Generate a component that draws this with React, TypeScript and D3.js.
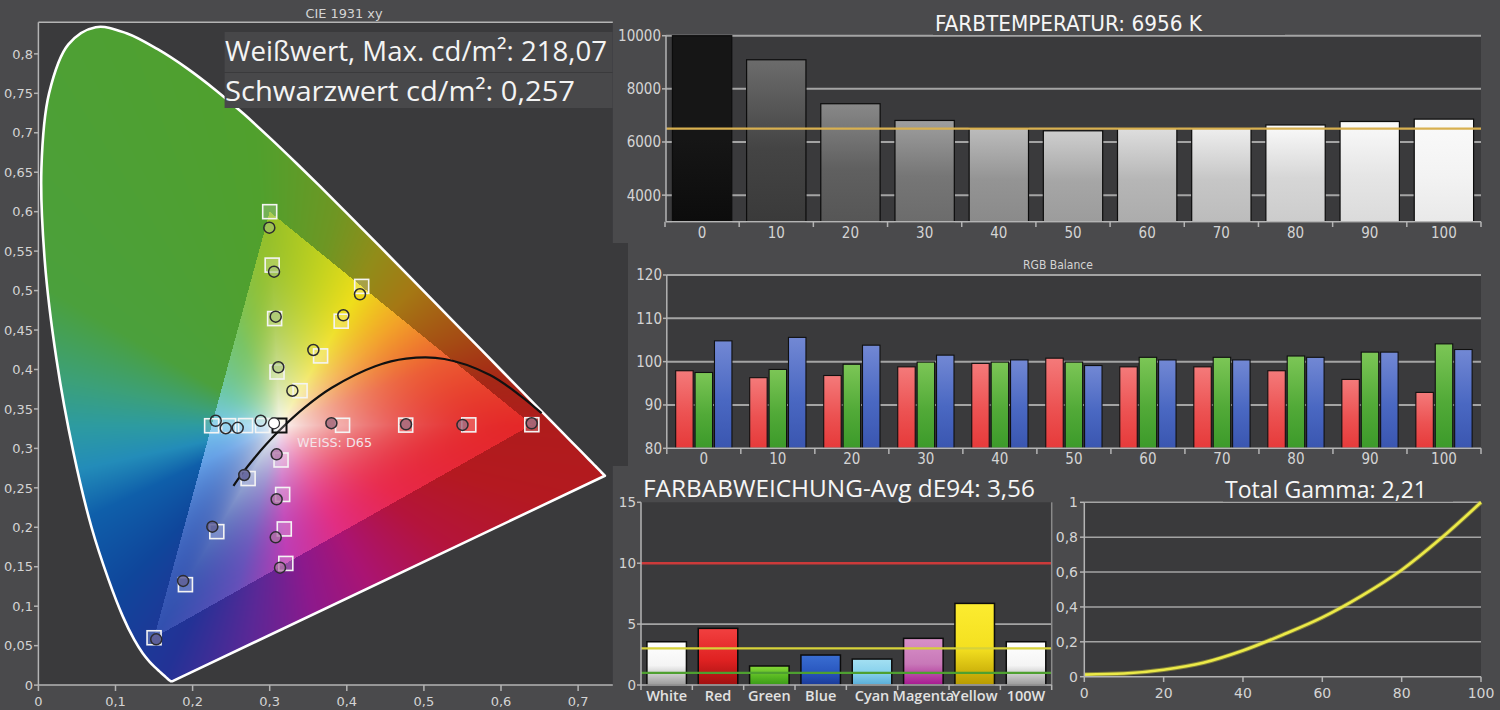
import React, { useMemo } from "react";
import * as d3 from "d3";

// ---------- CIE 1931 data ----------
// spectral locus, 380..700 nm
const locus: [number, number][] = [
  [0.1741, 0.005], [0.174, 0.005], [0.1738, 0.0049], [0.1736, 0.0049], [0.1733, 0.0048],
  [0.173, 0.0048], [0.1726, 0.0048], [0.1721, 0.0048], [0.1714, 0.0051], [0.1703, 0.0058],
  [0.1689, 0.0069], [0.1669, 0.0086], [0.1644, 0.0109], [0.1611, 0.0138], [0.1566, 0.0177],
  [0.151, 0.0227], [0.144, 0.0297], [0.1355, 0.0399], [0.1241, 0.0578], [0.1096, 0.0868],
  [0.0913, 0.1327], [0.0687, 0.2007], [0.0454, 0.295], [0.0235, 0.4127], [0.0082, 0.5384],
  [0.0039, 0.6548], [0.0139, 0.7502], [0.0389, 0.812], [0.0743, 0.8338], [0.1142, 0.8262],
  [0.1547, 0.8059], [0.1929, 0.7816], [0.2296, 0.7543], [0.2658, 0.7243], [0.3016, 0.6923],
  [0.3373, 0.6589], [0.3731, 0.6245], [0.4087, 0.5896], [0.4441, 0.5547], [0.4788, 0.5202],
  [0.5125, 0.4866], [0.5448, 0.4544], [0.5752, 0.4242], [0.6029, 0.3965], [0.627, 0.3725],
  [0.6482, 0.3514], [0.6658, 0.334], [0.6801, 0.3197], [0.6915, 0.3083], [0.7006, 0.2993],
  [0.7079, 0.292], [0.714, 0.2859], [0.719, 0.2809], [0.723, 0.277], [0.726, 0.274],
  [0.7283, 0.2717], [0.73, 0.27], [0.732, 0.268], [0.7334, 0.2666], [0.7347, 0.2653],
];
// Planckian locus 25000K .. 1000K
const planck: [number, number][] = [
  [0.253, 0.2526], [0.2637, 0.2674], [0.2807, 0.2884], [0.2952, 0.3048], [0.3135, 0.3236],
  [0.3451, 0.3516], [0.3805, 0.3768], [0.4369, 0.4041], [0.477, 0.4137], [0.5266, 0.4133],
  [0.5857, 0.3931], [0.6249, 0.3669], [0.6526, 0.3446],
];
const gamutTri: [number, number][] = [[0.64, 0.33], [0.3, 0.6], [0.15, 0.06]];
const whiteTarget: [number, number] = [0.3127, 0.329];
const whiteMeasured: [number, number] = [0.3056, 0.3318];

const targetRed: [number, number][] = [[0.3945, 0.3293], [0.4764, 0.3295], [0.5582, 0.3298], [0.64, 0.33]];
const targetGreen: [number, number][] = [[0.3095, 0.3968], [0.3064, 0.4645], [0.3032, 0.5323], [0.3, 0.6]];
const targetBlue: [number, number][] = [[0.272, 0.2618], [0.2314, 0.1945], [0.1907, 0.1273], [0.15, 0.06]];
const targetCyan: [number, number][] = [[0.2907, 0.329], [0.2687, 0.3289], [0.2467, 0.3288], [0.2247, 0.3287]];
const targetMagenta: [number, number][] = [[0.3147, 0.2853], [0.3168, 0.2416], [0.3189, 0.1979], [0.3209, 0.1542]];
const targetYellow: [number, number][] = [[0.3394, 0.3731], [0.366, 0.4172], [0.3927, 0.4612], [0.4193, 0.5053]];

const measRed: [number, number][] = [[0.38, 0.332], [0.4768, 0.3305], [0.55, 0.3297], [0.6398, 0.3318]];
const measGreen: [number, number][] = [[0.3112, 0.4028], [0.3078, 0.4669], [0.3056, 0.524], [0.2995, 0.5797]];
const measBlue: [number, number][] = [[0.267, 0.2663], [0.2256, 0.2008], [0.1877, 0.132], [0.1528, 0.058]];
const measCyan: [number, number][] = [[0.2883, 0.335], [0.2585, 0.326], [0.243, 0.3255], [0.23, 0.335]];
const measMagenta: [number, number][] = [[0.309, 0.2925], [0.309, 0.2355], [0.3078, 0.1873], [0.3134, 0.1488]];
const measYellow: [number, number][] = [[0.3294, 0.3731], [0.3566, 0.4247], [0.3955, 0.4687], [0.4171, 0.4953]];

const cieXTicks = [0, 0.1, 0.2, 0.3, 0.4, 0.5, 0.6, 0.7];
const cieYTicks = [0, 0.05, 0.1, 0.15, 0.2, 0.25, 0.3, 0.35, 0.4, 0.45, 0.5, 0.55, 0.6, 0.65, 0.7, 0.75, 0.8];

// ---------- Farbtemperatur ----------
const levels = ["0", "10", "20", "30", "40", "50", "60", "70", "80", "90", "100"];
const cct = [10000, 9094, 7440, 6810, 6520, 6420, 6510, 6510, 6640, 6770, 6860];
const cctTarget = 6500;
const cctTicks = [4000, 6000, 8000, 10000];

// ---------- RGB Balance ----------
const rgbRed = [97.9, 96.3, 96.8, 98.8, 99.6, 100.8, 98.8, 98.8, 97.9, 95.9, 92.9];
const rgbGreen = [97.5, 98.2, 99.4, 99.9, 99.9, 99.9, 101.0, 101.0, 101.3, 102.2, 104.1];
const rgbBlue = [104.8, 105.6, 103.8, 101.5, 100.4, 99.1, 100.4, 100.4, 101.0, 102.2, 102.8];
const rgbTicks = [80, 90, 100, 110, 120];

// ---------- Farbabweichung ----------
const deCats = ["White", "Red", "Green", "Blue", "Cyan", "Magenta", "Yellow", "100W"];
const deValues = [3.55, 4.65, 1.56, 2.46, 2.13, 3.83, 6.7, 3.55];
const deTicks = [0, 5, 10, 15];

// ---------- Gamma ----------
const gammaX = [0, 10, 20, 30, 40, 50, 60, 70, 80, 90, 100];
const gammaY = [0.012, 0.018, 0.04, 0.08, 0.15, 0.24, 0.34, 0.465, 0.612, 0.795, 1.0];
const gammaXTicks = [0, 20, 40, 60, 80, 100];
const gammaYTicks = [0, 0.2, 0.4, 0.6, 0.8, 1];

const BG = "#4a4a4c";
const PLOT = "#3a3a3c";
const GRID = "#a4a4a4";
const LBL = "#d4d4d4";
const NUM = "'DejaVu Sans', sans-serif";
const NARROW = "'Liberation Sans Narrow', 'DejaVu Sans Condensed', 'Liberation Sans', sans-serif";
const TITLE = "'Open Sans', 'Noto Sans', sans-serif";

const comma = (v: number) => d3.format("~g")(+v.toFixed(3)).replace(".", ",");

// ---------- colour field of the diagram (hue by angle around the white point) ----------
// [angle in degrees, r, g, b]
const fieldOutside: number[][] = [
  [0, 175, 28, 28], [12, 165, 40, 22], [25, 165, 75, 20], [45, 165, 120, 20], [60, 145, 140, 25],
  [75, 110, 150, 35], [95, 80, 160, 45], [150, 75, 160, 60], [168, 60, 160, 120], [180, 45, 155, 160],
  [192, 35, 140, 185], [205, 15, 95, 170], [225, 15, 70, 155], [245, 35, 50, 150], [262, 90, 40, 150],
  [280, 140, 25, 140], [300, 170, 20, 115], [325, 180, 20, 60], [345, 180, 25, 32], [360, 175, 28, 28],
];
const fieldInside: number[][] = [
  [0, 228, 40, 40], [20, 235, 90, 50], [40, 242, 160, 40], [59, 238, 222, 25], [75, 195, 210, 30],
  [93, 150, 192, 40], [115, 120, 195, 100], [150, 110, 200, 170], [180, 120, 200, 235], [205, 100, 160, 230],
  [239, 50, 80, 175], [255, 100, 80, 185], [273, 190, 60, 180], [300, 225, 45, 130], [330, 232, 40, 75],
  [360, 228, 40, 40],
];

function lerpAnchors(a: number, table: number[][]) {
  let k = 1;
  while (k < table.length - 1 && table[k][0] < a) k++;
  const p = table[k - 1], q = table[k];
  const t = (a - p[0]) / (q[0] - p[0] || 1);
  return [p[1] + (q[1] - p[1]) * t, p[2] + (q[2] - p[2]) * t, p[3] + (q[3] - p[3]) * t];
}

function cross(ax: number, ay: number, bx: number, by: number) {
  return ax * by - ay * bx;
}

// fraction of the way from the white point to the gamut edge (>1 = outside)
function gamutDepth(x: number, y: number) {
  const [wx, wy] = whiteTarget;
  const vx = x - wx, vy = y - wy;
  let best = Infinity;
  for (let k = 0; k < 3; k++) {
    const a = gamutTri[k], b = gamutTri[(k + 1) % 3];
    const ex = b[0] - a[0], ey = b[1] - a[1];
    const den = cross(vx, vy, ex, ey);
    if (Math.abs(den) < 1e-12) continue;
    const t = cross(a[0] - wx, a[1] - wy, ex, ey) / den;
    const u = cross(a[0] - wx, a[1] - wy, vx, vy) / den;
    if (t > 0 && u >= -1e-9 && u <= 1 + 1e-9) best = Math.min(best, t);
  }
  return best === Infinity ? 0 : 1 / best;
}

function fieldColor(x: number, y: number) {
  const dx = x - whiteTarget[0], dy = y - whiteTarget[1];
  let ang = (Math.atan2(dy, dx) * 180) / Math.PI;
  if (ang < 0) ang += 360;
  const d = gamutDepth(x, y);
  if (d > 1) return lerpAnchors(ang, fieldOutside);
  const c = lerpAnchors(ang, fieldInside);
  const w = Math.pow(1 - d, 2.2);
  return [c[0] + (250 - c[0]) * w, c[1] + (249 - c[1]) * w, c[2] + (245 - c[2]) * w];
}

function buildField(sx: d3.ScaleLinear<number, number>, sy: d3.ScaleLinear<number, number>, x0: number, y0: number, w: number, h: number) {
  const canvas = document.createElement("canvas");
  canvas.width = w;
  canvas.height = h;
  const ctx = canvas.getContext("2d");
  if (!ctx) return "";
  const img = ctx.createImageData(w, h);
  for (let j = 0; j < h; j++) {
    const y = sy.invert(y0 + j + 0.5);
    for (let i = 0; i < w; i++) {
      const x = sx.invert(x0 + i + 0.5);
      const [r, g, b] = fieldColor(x, y);
      const k = (j * w + i) * 4;
      img.data[k] = r;
      img.data[k + 1] = g;
      img.data[k + 2] = b;
      img.data[k + 3] = 255;
    }
  }
  ctx.putImageData(img, 0, 0);
  return canvas.toDataURL();
}

function grad(id: string, top: string, bottom: string, mid?: string) {
  return (
    <linearGradient id={id} key={id} x1="0" y1="0" x2="0" y2="1">
      <stop offset="0%" stopColor={top} />
      {mid && <stop offset="55%" stopColor={mid} />}
      <stop offset="100%" stopColor={bottom} />
    </linearGradient>
  );
}

export default function App() {
  // CIE panel scales
  const cx = d3.scaleLinear([0, 0.745], [38.4, 612.8]);
  const cy = d3.scaleLinear([0, 0.84], [685.1, 22.3]);
  const field = useMemo(() => buildField(cx, cy, 38, 22, 576, 664), []);
  const locusPath = d3.line<[number, number]>().x((d) => cx(d[0])).y((d) => cy(d[1])).curve(d3.curveCatmullRom)(locus) + "Z";
  const planckPath = d3.line<[number, number]>().x((d) => cx(d[0])).y((d) => cy(d[1])).curve(d3.curveCatmullRom)(planck);

  const targets = [targetRed, targetGreen, targetBlue, targetCyan, targetMagenta, targetYellow];
  const measured = [measRed, measGreen, measBlue, measCyan, measMagenta, measYellow];
  const measFill = ["rgba(160,105,125,0.8)", "rgba(165,195,120,0.55)", "rgba(95,95,150,0.85)", "none", "rgba(175,115,165,0.75)", "none"];

  // Farbtemperatur
  const tX = d3.scaleBand(levels, [665, 1481]).paddingInner(0.2).paddingOuter(0.1);
  const tY = d3.scaleLinear([3000, 10000], [221.7, 35.7]);
  const grayBase = [22, 68, 96, 118, 148, 166, 182, 198, 214, 229, 243];

  // RGB balance
  const rX = d3.scaleBand(levels, [666.8, 1481]).paddingInner(0.24).paddingOuter(0.12);
  const rSub = d3.scaleBand(["R", "G", "B"], [0, rX.bandwidth()]).paddingInner(0.1);
  const rY = d3.scaleLinear([80, 120], [448.3, 275]);
  const rgbSeries = [rgbRed, rgbGreen, rgbBlue];
  const rgbKeys = ["R", "G", "B"];

  // dE
  const dX = d3.scaleBand(deCats, [641, 1051.7]).paddingInner(0.23).paddingOuter(0.115);
  const dY = d3.scaleLinear([0, 15], [685, 502.3]);
  const deGrad: [string, string, string][] = [
    ["#ffffff", "#f4f4f4", "#9a9a9a"],
    ["#f24040", "#e02222", "#a01010"],
    ["#86d838", "#58b822", "#3a9a18"],
    ["#3a6ed2", "#2a58c0", "#1a3a98"],
    ["#a4e0f2", "#86d0ec", "#58acd8"],
    ["#d890c8", "#c878b8", "#a81890"],
    ["#fcec30", "#f4e020", "#b89a00"],
    ["#ffffff", "#f4f4f4", "#9a9a9a"],
  ];

  // Gamma
  const gX = d3.scaleLinear([0, 100], [1084.3, 1481]);
  const gY = d3.scaleLinear([0, 1], [676.7, 502.3]);
  const gammaPath = d3.line<number>().x((d, i) => gX(gammaX[i])).y((d) => gY(d)).curve(d3.curveMonotoneX)(gammaY);

  const bandTicks = (s: d3.ScaleBand<string>, n: number) => d3.range(n + 1).map((k) => s.range()[0] + k * s.step());

  return (
    <svg width={1500} height={710} style={{ position: "absolute", left: 0, top: 0 }} fontFamily={NUM}>
      <defs>
        <clipPath id="locusClip"><path d={locusPath} /></clipPath>
        {grayBase.map((g, i) => {
          const c = d3.rgb(g, g, g);
          const top = i === 0 ? c : d3.rgb(Math.min(250, g + 40), Math.min(250, g + 40), Math.min(250, g + 40));
          return grad(`tg${i}`, top.formatHex(), d3.rgb(Math.max(10, g - 10), Math.max(10, g - 10), Math.max(10, g - 10)).formatHex(), c.formatHex());
        })}
        {grad("rgR", "#f47a7a", "#e63a3a", "#ec5252")}
        {grad("rgG", "#7cc656", "#3c9a2a", "#52aa38")}
        {grad("rgB", "#7288d4", "#3a56b0", "#4a68c2")}
        {deGrad.map((g, i) => grad(`dg${i}`, g[0], g[2], g[1]))}
      </defs>

      <rect x={0} y={0} width={1500} height={710} fill={BG} />

      {/* ================= CIE 1931 xy ================= */}
      <rect x={38.4} y={22.3} width={574.4} height={662.8} fill={PLOT} />
      <rect x={612} y={243} width={16} height={223} fill={PLOT} />
      {field && <image href={field} x={38} y={22} width={576} height={664} clipPath="url(#locusClip)" preserveAspectRatio="none" />}
      <path d={locusPath} fill="none" stroke="#ffffff" strokeWidth={2.6} strokeLinejoin="round" />
      <path d={planckPath ?? ""} fill="none" stroke="#111" strokeWidth={2.2} />
      <g fill="rgba(255,255,255,0.2)" stroke="#f4f4f4" strokeWidth={1.6}>
        {targets.flat().map((d, i) => (
          <rect key={i} x={cx(d[0]) - 7} y={cy(d[1]) - 7} width={14} height={14} />
        ))}
      </g>
      <rect x={cx(whiteTarget[0]) - 7} y={cy(whiteTarget[1]) - 7} width={14} height={14} fill="rgba(255,255,255,0.2)" stroke="#111" strokeWidth={2} />
      {measured.map((s, si) => (
        <g key={si} fill={measFill[si]} stroke="#2c2c30" strokeWidth={1.5}>
          {s.map((d, i) => (
            <circle key={i} cx={cx(d[0])} cy={cy(d[1])} r={5.5} />
          ))}
        </g>
      ))}
      <circle cx={cx(whiteMeasured[0])} cy={cy(whiteMeasured[1])} r={5.5} fill="#ffffff" stroke="#2c2c30" strokeWidth={1.2} />
      <text x={297} y={446.5} fontSize={12.5} fill="#f4e4ea" textLength={75} lengthAdjust="spacingAndGlyphs">WEISS: D65</text>

      {/* axes */}
      <g stroke="#b4b4b4" strokeWidth={1.5}>
        <line x1={38.4} y1={22.3} x2={612.8} y2={22.3} />
        <line x1={38.4} y1={22.3} x2={38.4} y2={685.1} />
        <line x1={38.4} y1={685.1} x2={612.8} y2={685.1} />
        {cieYTicks.map((t) => <line key={t} x1={34} x2={38.4} y1={cy(t)} y2={cy(t)} />)}
        {cieXTicks.map((t) => <line key={t} x1={cx(t)} x2={cx(t)} y1={685.1} y2={691} />)}
      </g>
      <g fontSize={13} fill={LBL}>
        {cieYTicks.map((t) => (
          <text key={t} x={33} y={cy(t)} dy="0.36em" textAnchor="end">{comma(t)}</text>
        ))}
        {cieXTicks.map((t) => (
          <text key={t} x={cx(t)} y={706} textAnchor="middle">{comma(t)}</text>
        ))}
      </g>
      <text x={344} y={18} fontSize={12} fill={LBL} textAnchor="middle" fontFamily={NARROW} textLength={77} lengthAdjust="spacingAndGlyphs">CIE 1931 xy</text>

      <rect x={224.6} y={32} width={388} height={40} fill="#474749" />
      <rect x={224.6} y={73} width={388} height={35} fill="#48484a" />
      <g fontFamily={TITLE} fill="#f4f4f4" fontSize={28}>
        <text x={225} y={61} textLength={382} lengthAdjust="spacingAndGlyphs">Weißwert, Max. cd/m²: 218,07</text>
        <text x={225} y={101} textLength={350} lengthAdjust="spacingAndGlyphs">Schwarzwert cd/m²: 0,257</text>
      </g>

      {/* ================= Farbtemperatur ================= */}
      <rect x={666} y={35.7} width={815} height={186} fill={PLOT} />
      <g stroke={GRID} strokeWidth={2}>
        {cctTicks.map((t) => <line key={t} x1={666} x2={1481} y1={tY(t)} y2={tY(t)} />)}
      </g>
      {cct.map((v, i) => (
        <rect key={i} x={tX(levels[i])} y={tY(v)} width={tX.bandwidth()} height={tY(3000) - tY(v)} fill={`url(#tg${i})`} stroke="#0c0c0c" strokeWidth={1.2} />
      ))}
      <line x1={666} x2={1481} y1={tY(cctTarget)} y2={tY(cctTarget)} stroke="#d8b050" strokeWidth={2.2} />
      <g stroke="#b4b4b4" strokeWidth={1.5}>
        <line x1={666} x2={666} y1={35.7} y2={221.7} />
        <line x1={666} x2={1481} y1={221.7} y2={221.7} />
        {cctTicks.map((t) => <line key={t} x1={662} x2={666} y1={tY(t)} y2={tY(t)} />)}
        {bandTicks(tX, levels.length).map((t, i) => <line key={i} x1={t} x2={t} y1={221.7} y2={227} />)}
      </g>
      <g fontFamily={NARROW} fontSize={15} fill={LBL}>
        {cctTicks.map((t) => (
          <text key={t} x={661} y={tY(t)} dy="0.36em" textAnchor="end">{t}</text>
        ))}
        {levels.map((l) => (
          <text key={l} x={(tX(l) ?? 0) + tX.bandwidth() / 2} y={238} textAnchor="middle">{l}</text>
        ))}
      </g>
      <rect x={933} y={0} width={352} height={35} fill={BG} />
      <text x={935} y={30.5} fontFamily={NARROW} fontSize={21} fill="#f6f6f6" textLength={267} lengthAdjust="spacingAndGlyphs">FARBTEMPERATUR: 6956 K</text>

      {/* ================= RGB Balance ================= */}
      <rect x={666.8} y={275} width={814.2} height={173.3} fill={PLOT} />
      <g stroke={GRID} strokeWidth={2}>
        {rgbTicks.slice(1).map((t) => <line key={t} x1={666.8} x2={1481} y1={rY(t)} y2={rY(t)} />)}
      </g>
      {levels.map((l, i) => (
        <g key={l} transform={`translate(${rX(l)},0)`}>
          {rgbSeries.map((s, k) => (
            <rect key={k} x={rSub(rgbKeys[k])} y={rY(s[i])} width={rSub.bandwidth()} height={rY(80) - rY(s[i])} fill={`url(#rg${rgbKeys[k]})`} stroke="#101010" strokeWidth={1.1} />
          ))}
        </g>
      ))}
      <g stroke="#b4b4b4" strokeWidth={1.5}>
        <line x1={666.8} x2={666.8} y1={275} y2={448.3} />
        <line x1={666.8} x2={1481} y1={448.3} y2={448.3} />
        {rgbTicks.map((t) => <line key={t} x1={663} x2={666.8} y1={rY(t)} y2={rY(t)} />)}
        {bandTicks(rX, levels.length).map((t, i) => <line key={i} x1={t} x2={t} y1={448.3} y2={454} />)}
      </g>
      <g fontFamily={NARROW} fontSize={15} fill={LBL}>
        {rgbTicks.map((t) => (
          <text key={t} x={662} y={rY(t)} dy="0.36em" textAnchor="end">{t}</text>
        ))}
        {levels.map((l) => (
          <text key={l} x={(rX(l) ?? 0) + rX.bandwidth() / 2} y={464} textAnchor="middle">{l}</text>
        ))}
      </g>
      <text x={1058} y={269} fontFamily={NARROW} fontSize={12} fill={LBL} textAnchor="middle">RGB Balance</text>

      {/* ================= Farbabweichung ================= */}
      <rect x={641} y={502.3} width={410.7} height={182.7} fill={PLOT} />
      <line x1={641} x2={1051.7} y1={dY(5)} y2={dY(5)} stroke={GRID} strokeWidth={1.6} />
      {deValues.map((v, i) => (
        <rect key={i} x={dX(deCats[i])} y={dY(v)} width={dX.bandwidth()} height={dY(0) - dY(v)} fill={`url(#dg${i})`} stroke="#0c0c0c" strokeWidth={1.5} />
      ))}
      <line x1={641} x2={1051.7} y1={dY(10)} y2={dY(10)} stroke="#cc3a3a" strokeWidth={2.6} />
      <line x1={641} x2={1051.7} y1={dY(3)} y2={dY(3)} stroke="#d6d23a" strokeWidth={2.2} />
      <line x1={641} x2={1051.7} y1={dY(1)} y2={dY(1)} stroke="#4ea030" strokeWidth={2.2} />
      <g stroke="#b4b4b4" strokeWidth={1.5}>
        <line x1={641} x2={641} y1={502.3} y2={685} />
        <line x1={1051.7} x2={1051.7} y1={502.3} y2={685} stroke="#8a8a8a" />
        <line x1={641} x2={1051.7} y1={685} y2={685} />
        {deTicks.map((t) => <line key={t} x1={637} x2={641} y1={dY(t)} y2={dY(t)} />)}
        {bandTicks(dX, deCats.length).map((t, i) => <line key={i} x1={t} x2={t} y1={685} y2={690} />)}
      </g>
      <g fontSize={13.5} fill={LBL}>
        {deTicks.map((t) => (
          <text key={t} x={636} y={dY(t)} dy="0.36em" textAnchor="end">{t}</text>
        ))}
      </g>
      <g fontFamily={TITLE} fontWeight={600} fontSize={14.5} fill="#e2e2e2">
        {deCats.map((c) => (
          <text key={c} x={(dX(c) ?? 0) + dX.bandwidth() / 2} y={701} textAnchor="middle">{c}</text>
        ))}
      </g>
      <text x={643} y={497} fontFamily={TITLE} fontSize={23} fill="#f6f6f6" textLength={392} lengthAdjust="spacingAndGlyphs">FARBABWEICHUNG-Avg dE94: 3,56</text>

      {/* ================= Total Gamma ================= */}
      <rect x={1084.3} y={502.3} width={396.7} height={174.4} fill={PLOT} />
      <g stroke={GRID} strokeWidth={1.6}>
        {gammaYTicks.slice(1).map((t) => <line key={t} x1={1084.3} x2={1481} y1={gY(t)} y2={gY(t)} />)}
      </g>
      <path d={gammaPath ?? ""} fill="none" stroke="#c8c43a" strokeWidth={4.5} opacity={0.5} />
      <path d={gammaPath ?? ""} fill="none" stroke="#ecea48" strokeWidth={2.6} />
      <g stroke="#b4b4b4" strokeWidth={1.5}>
        <line x1={1084.3} x2={1084.3} y1={502.3} y2={676.7} />
        <line x1={1084.3} x2={1481} y1={676.7} y2={676.7} />
        {gammaYTicks.map((t) => <line key={t} x1={1080} x2={1084.3} y1={gY(t)} y2={gY(t)} />)}
        {gammaXTicks.map((t) => <line key={t} x1={gX(t)} x2={gX(t)} y1={676.7} y2={682} />)}
      </g>
      <g fontSize={14} fill={LBL}>
        {gammaYTicks.map((t) => (
          <text key={t} x={1078} y={gY(t)} dy="0.36em" textAnchor="end">{comma(t)}</text>
        ))}
        {gammaXTicks.map((t) => (
          <text key={t} x={gX(t)} y={698} textAnchor="middle">{t}</text>
        ))}
      </g>
      <rect x={1223} y={470} width={230} height={31.5} fill={BG} />
      <text x={1225} y={498} fontFamily={TITLE} fontSize={23} fill="#f6f6f6" textLength={202} lengthAdjust="spacingAndGlyphs">Total Gamma: 2,21</text>
    </svg>
  );
}
